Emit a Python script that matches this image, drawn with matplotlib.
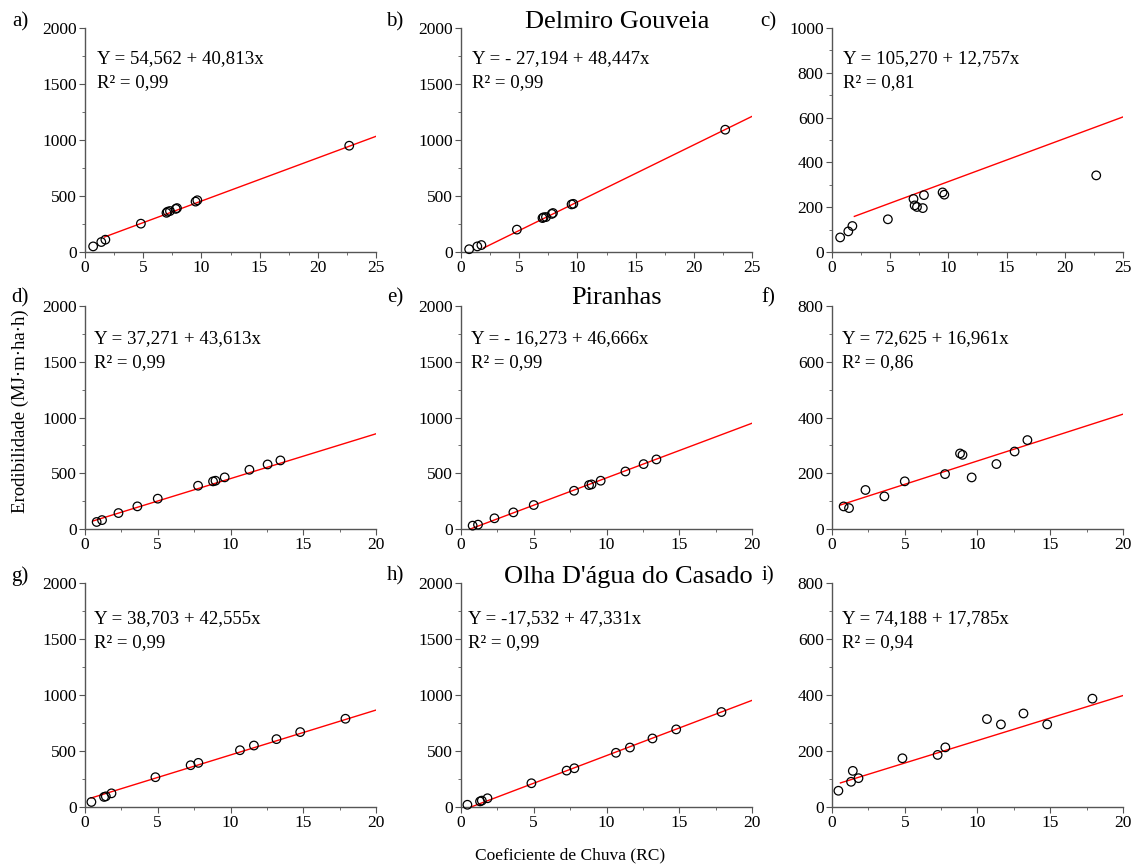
import numpy as np
import matplotlib.pyplot as plt
from matplotlib.ticker import MultipleLocator

plt.rcParams["font.family"] = ["Liberation Serif", "DejaVu Serif"]

# Delmiro Gouveia (a, b, c)
x_dg = [0.7, 1.4, 1.75, 4.8, 7.0, 7.1, 7.3, 7.8, 7.9, 9.5, 9.65, 22.7]
y_a = [50, 89, 110, 253, 350, 360, 366, 385, 392, 450, 462, 949]
y_b = [25, 50, 62, 200, 303, 310, 312, 340, 348, 425, 430, 1092]
y_c = [65, 92, 116, 146, 237, 208, 201, 196, 254, 266, 256, 342]

# Piranhas (d, e, f)
x_pi = [0.8, 1.17, 2.3, 3.6, 5.0, 7.77, 8.8, 8.97, 9.6, 11.3, 12.55, 13.43]
y_d = [63, 80, 143, 203, 272, 388, 427, 433, 463, 531, 579, 615]
y_e = [30, 39, 96, 149, 215, 343, 394, 400, 433, 516, 582, 624]
y_f = [81, 75, 140, 117, 171, 197, 271, 266, 185, 233, 278, 319]

# Olha D'agua do Casado (g, h, i)
x_od = [0.44, 1.31, 1.43, 1.82, 4.84, 7.26, 7.79, 10.65, 11.61, 13.16, 14.79, 17.9]
y_g = [45, 90, 95, 122, 266, 373, 394, 507, 549, 606, 669, 788]
y_h = [20, 50, 57, 78, 212, 325, 346, 484, 531, 612, 693, 848]
y_i = [58, 90, 129, 103, 174, 186, 213, 314, 295, 334, 295, 387]

# fitted red lines as drawn in the figure (intercept, slope, start x)
line_b0 = [69.6, -62.8, 122.0, 50.0, -31.4, 76.4, 63.5, -34.0, 76.7]
line_b1 = [38.53, 50.95, 19.24, 40.2, 49.0, 16.78, 40.1, 49.3, 16.07]
line_x0 = [1.67, 1.94, 1.92, 0.55, 0.64, 0.57, 0.41, 0.69, 0.58]

equations = ["Y = 54,562 + 40,813x", "Y = - 27,194 + 48,447x", "Y = 105,270 + 12,757x",
             "Y = 37,271 + 43,613x", "Y = - 16,273 + 46,666x", "Y = 72,625 + 16,961x",
             "Y = 38,703 + 42,555x", "Y = -17,532 + 47,331x", "Y = 74,188 + 17,785x"]
r2 = ["R² = 0,99", "R² = 0,99", "R² = 0,81",
      "R² = 0,99", "R² = 0,99", "R² = 0,86",
      "R² = 0,99", "R² = 0,99", "R² = 0,94"]
labels = ["a)", "b)", "c)", "d)", "e)", "f)", "g)", "h)", "i)"]
stations = ["Delmiro Gouveia", "Piranhas", "Olha D'água do Casado"]

xs = [x_dg, x_dg, x_dg, x_pi, x_pi, x_pi, x_od, x_od, x_od]
ys = [y_a, y_b, y_c, y_d, y_e, y_f, y_g, y_h, y_i]
xmax = [25, 25, 25, 20, 20, 20, 20, 20, 20]
ymax = [2000, 2000, 1000, 2000, 2000, 800, 2000, 2000, 800]

W, H = 1139, 865
fig = plt.figure(figsize=(W / 100, H / 100), dpi=100)

lefts = [85, 461, 832]
tops = [28, 306, 583]
bottoms = [252, 529, 807]
eq_x = [0.041, 0.038, 0.038, 0.031, 0.035, 0.035, 0.031, 0.024, 0.035]

for k in range(9):
    r, c = divmod(k, 3)
    left = lefts[c]
    width = 291
    ax = fig.add_axes([left / W, (H - bottoms[r]) / H, width / W, (bottoms[r] - tops[r]) / H])

    ax.scatter(xs[k], ys[k], s=38, facecolors="none", edgecolors="black", linewidths=0.9, zorder=3, clip_on=False)
    lx = np.array([line_x0[k], xmax[k]])
    ax.plot(lx, line_b0[k] + line_b1[k] * lx, color="red", lw=1.0, zorder=2)

    ax.set_xlim(0, xmax[k])
    ax.set_ylim(0, ymax[k])
    ax.xaxis.set_major_locator(MultipleLocator(5))
    ax.xaxis.set_minor_locator(MultipleLocator(2.5))
    if ymax[k] == 2000:
        ax.yaxis.set_major_locator(MultipleLocator(500))
        ax.yaxis.set_minor_locator(MultipleLocator(250))
    else:
        ax.yaxis.set_major_locator(MultipleLocator(200))
        ax.yaxis.set_minor_locator(MultipleLocator(100))
    for s in ["top", "right"]:
        ax.spines[s].set_visible(False)
    for s in ["left", "bottom"]:
        ax.spines[s].set_color("#555555")
        ax.spines[s].set_linewidth(1.0)
    ax.tick_params(which="major", length=4, color="#555555", labelsize=12.5, pad=2)
    ax.tick_params(which="minor", length=2, color="#555555")

    ax.text(eq_x[k], 0.845 - 0.012 * r, equations[k], transform=ax.transAxes, fontsize=13.6, va="baseline")
    ax.text(eq_x[k], 0.738 - 0.012 * r, r2[k], transform=ax.transAxes, fontsize=13.6, va="baseline")

# panel letters
lab_x = [20, 395, 768]
lab_y = [22, 298, 576]
for k in range(9):
    r, c = divmod(k, 3)
    fig.text(lab_x[c] / W, 1 - lab_y[r] / H, labels[k], fontsize=15, ha="center", va="center")

# station titles
title_y = [22, 298, 577]
title_x = [617, 617, 628]
for r in range(3):
    fig.text(title_x[r] / W, 1 - title_y[r] / H, stations[r], fontsize=19, ha="center", va="center")

fig.text(20 / W, 1 - 411 / H, "Erodibilidade (MJ·m·ha·h)", rotation=90, fontsize=13.5, ha="center", va="center")
fig.text(570 / W, 1 - 855 / H, "Coeficiente de Chuva (RC)", fontsize=12.5, ha="center", va="center")

fig.savefig("out.png", dpi=100)
